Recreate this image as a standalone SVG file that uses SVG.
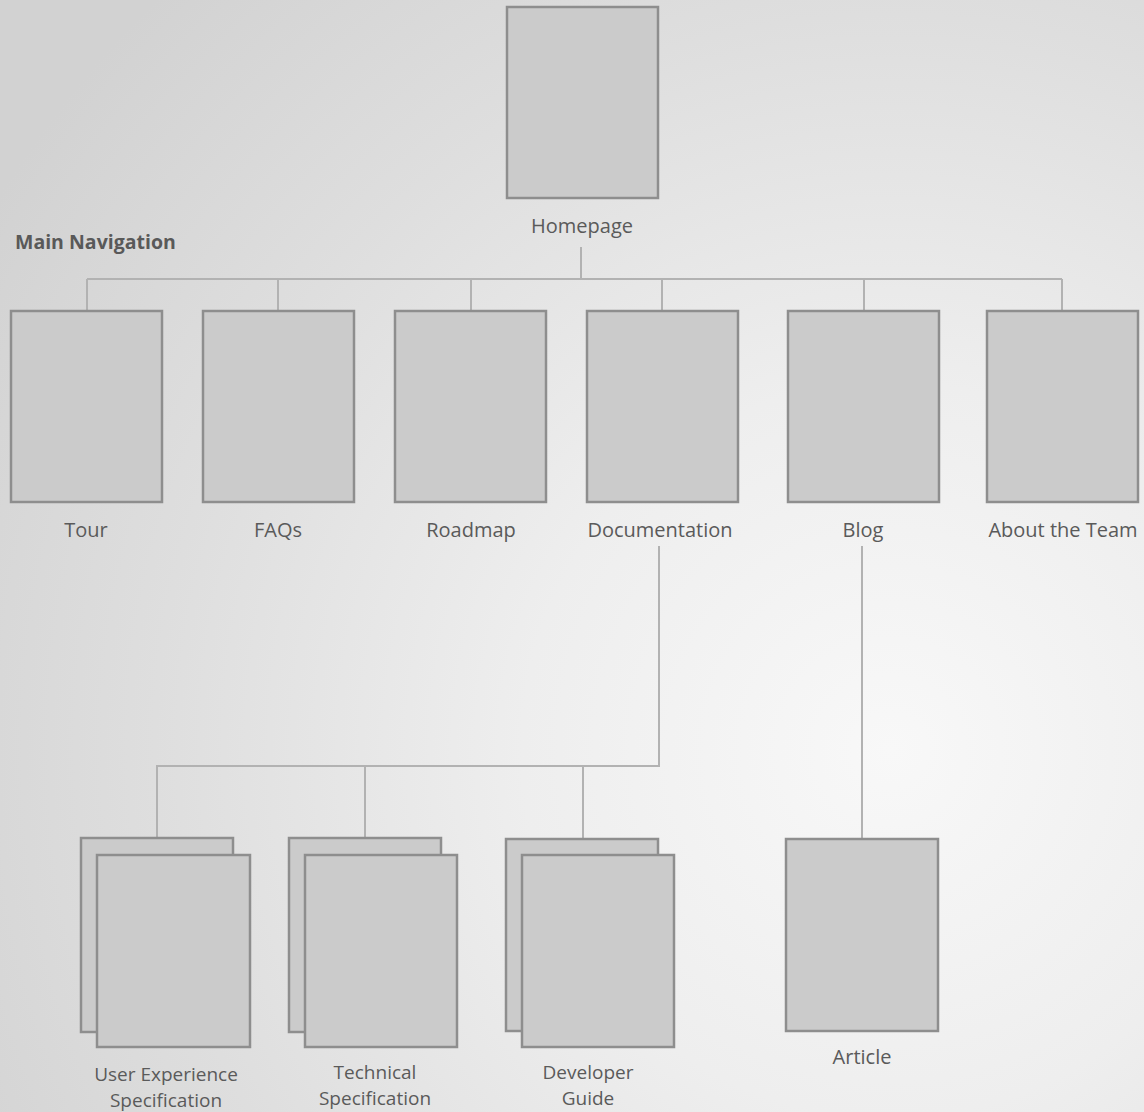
<svg xmlns="http://www.w3.org/2000/svg" width="1144" height="1112" viewBox="0 0 1144 1112">
<defs>
<radialGradient id="bg" gradientUnits="userSpaceOnUse" cx="890" cy="750" r="1050">
<stop offset="0" stop-color="#f8f8f8"/>
<stop offset="0.35" stop-color="#eeeeee"/>
<stop offset="0.7" stop-color="#dedede"/>
<stop offset="1" stop-color="#d2d2d2"/>
</radialGradient>
<style>
.box{fill:#cbcbcb;stroke:#8e8e8e;stroke-width:2.5}
.lbl{font-family:"Open Sans",Lato,sans-serif;font-size:20px;fill:#5a5a5a;text-anchor:middle}
.two{font-size:19px}
.con{fill:none;stroke:#b2b2b2;stroke-width:2}
.ttl{font-family:"Open Sans",Lato,sans-serif;font-size:19.5px;font-weight:bold;fill:#595959}
</style>
</defs>
<rect width="1144" height="1112" fill="url(#bg)"/>
<text class="ttl" x="15" y="249">Main Navigation</text>
<g id="connectors">
<path class="con" d="M581 247V279M87 279H1062M87 279V311M278 279V311M471 279V311M662 279V311M864 279V311M1062 279V311"/>
<path class="con" d="M659 546V766H157V838M365 766V838M583 766V838"/>
<path class="con" d="M862 546V838"/>
</g>
<g id="homepage"><rect class="box" x="507" y="7" width="151" height="191"/><text class="lbl" x="582" y="233">Homepage</text></g>
<g id="tour"><rect class="box" x="11" y="311" width="151" height="191"/><text class="lbl" x="86" y="537">Tour</text></g>
<g id="faqs"><rect class="box" x="203" y="311" width="151" height="191"/><text class="lbl" x="278" y="537">FAQs</text></g>
<g id="roadmap"><rect class="box" x="395" y="311" width="151" height="191"/><text class="lbl" x="471" y="537">Roadmap</text></g>
<g id="documentation"><rect class="box" x="587" y="311" width="151" height="191"/><text class="lbl" x="660" y="537">Documentation</text></g>
<g id="blog"><rect class="box" x="788" y="311" width="151" height="191"/><text class="lbl" x="863" y="537">Blog</text></g>
<g id="about"><rect class="box" x="987" y="311" width="151" height="191"/><text class="lbl" x="1063" y="537">About the Team</text></g>
<g id="ux-spec"><rect class="box" x="81" y="838" width="152" height="194"/><rect class="box" x="97" y="855" width="153" height="192"/><text class="lbl two" x="166" y="1081">User Experience</text><text class="lbl two" x="166" y="1107">Specification</text></g>
<g id="tech-spec"><rect class="box" x="289" y="838" width="152" height="194"/><rect class="box" x="305" y="855" width="152" height="192"/><text class="lbl two" x="375" y="1079">Technical</text><text class="lbl two" x="375" y="1105">Specification</text></g>
<g id="dev-guide"><rect class="box" x="506" y="839" width="152" height="192"/><rect class="box" x="522" y="855" width="152" height="192"/><text class="lbl two" x="588" y="1079">Developer</text><text class="lbl two" x="588" y="1105">Guide</text></g>
<g id="article"><rect class="box" x="786" y="839" width="152" height="192"/><text class="lbl" x="862" y="1064">Article</text></g>
</svg>
